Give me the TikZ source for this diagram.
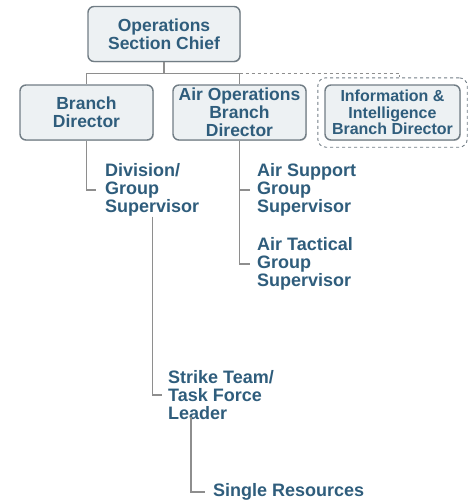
\documentclass[tikz,border=0pt]{standalone}
\usepackage{fontspec}
\setmainfont{Liberation Sans}
\usetikzlibrary{shadows,fit}
\definecolor{txtblue}{HTML}{2F5D7C}
\definecolor{boxline}{HTML}{717D85}
\definecolor{boxfill}{HTML}{EDF1F3}
\definecolor{wire}{HTML}{8E8E8E}
\tikzset{
  unitbox/.style={draw=boxline, line width=1.4pt, fill=boxfill, rounded corners=6pt,
    minimum height=55pt, align=center, inner sep=1pt, text=txtblue,
    font=\bfseries\fontsize{17.5}{18}\selectfont,
    drop shadow={shadow xshift=0.8pt, shadow yshift=-0.8pt, opacity=0.35, fill=gray}},
  unittext/.style={anchor=west, align=left, inner sep=0pt, text=txtblue,
    font=\bfseries\fontsize{18}{18}\selectfont},
  wireline/.style={draw=wire, line width=1.1pt}
}
\begin{document}
\begin{tikzpicture}[x=1pt,y=-1pt]
\useasboundingbox (0,0) rectangle (473,503);
\node[unitbox, minimum width=152pt] (chief) at (164,34) {Operations\\Section Chief};
\node[unitbox, minimum width=133pt] (branch) at (86.5,112.5) {Branch\\Director};
\node[unitbox, minimum width=133pt] (airops) at (239.5,112.5) {Air Operations\\Branch\\Director};
\node[unitbox, minimum width=135pt, font=\bfseries\fontsize{16}{16.5}\selectfont] (info) at (392.5,112.5) {Information \&\\Intelligence\\Branch Director};
\node[draw=boxline, dashed, line width=0.9pt, rounded corners=8pt, inner sep=6.5pt, fit=(info)] (infoframe) {};
\node[unittext] (division) at (105,190) {Division/\\Group\\Supervisor};
\node[unittext] (airsupport) at (257,190) {Air Support\\Group\\Supervisor};
\node[unittext] (airtactical) at (257,264) {Air Tactical\\Group\\Supervisor};
\node[unittext] (strike) at (168,395) {Strike Team/\\Task Force\\Leader};
\node[unittext] (single) at (213,492) {Single Resources};
% connectors
\draw[wireline] (chief.south) -- ++(0,11) coordinate (bus);
\draw[wireline] (branch.north) |- (bus) -| (airops.north);
\draw[wireline, dashed, line width=0.9pt] (airops.north |- bus) -| ([xshift=7pt]infoframe.north);
\draw[wireline] (branch.south) |- ([xshift=-9pt]division.west);
\draw[wireline] (airops.south) |- ([xshift=-7pt]airtactical.west);
\draw[wireline] ([xshift=-7pt]airsupport.west) -- (airops.south |- airsupport.west);
\draw[wireline] (division.south) |- ([xshift=-6pt]strike.west);
\draw[wireline] ([xshift=23pt,yshift=3pt]strike.south west) |- ([xshift=-8pt]single.west);
\end{tikzpicture}
\end{document}
